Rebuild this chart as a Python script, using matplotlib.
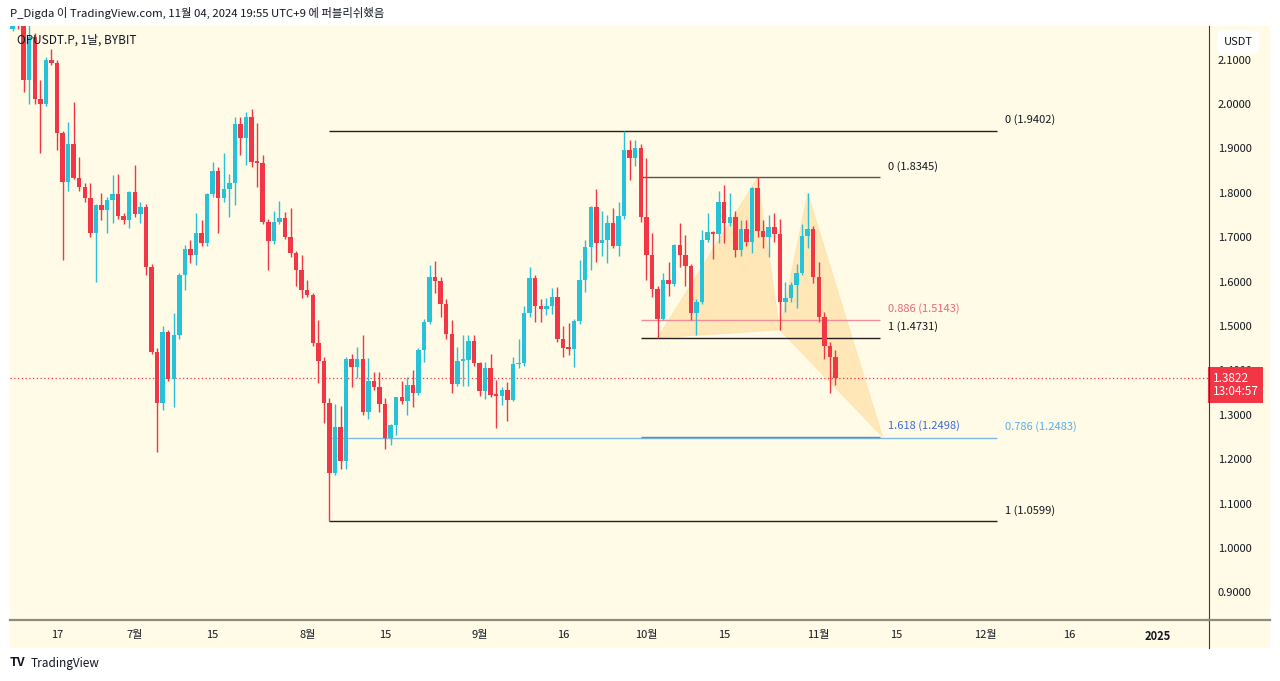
import matplotlib
matplotlib.use("Agg")
import matplotlib.pyplot as plt
import matplotlib.dates as mdates
import matplotlib.transforms as mtransforms
from matplotlib.patches import Rectangle, Polygon
from matplotlib.lines import Line2D
import pandas as pd

plt.rcParams['font.family'] = ['Noto Sans CJK KR', 'DejaVu Sans']

# daily candles OPUSDT.P, from 2024-06-09
start = "2024-06-09"
opens = [2.170, 2.250, 2.210, 2.054, 2.150, 2.011, 2.001, 2.100, 2.093, 1.934,
         1.825, 1.909, 1.834, 1.812, 1.788, 1.710, 1.772, 1.761, 1.784, 1.797,
         1.748, 1.739, 1.801, 1.752, 1.769, 1.634, 1.442, 1.327, 1.486, 1.380,
         1.480, 1.615, 1.673, 1.659, 1.710, 1.688, 1.797, 1.848, 1.788, 1.808,
         1.823, 1.955, 1.924, 1.971, 1.870, 1.868, 1.734, 1.691, 1.734, 1.743,
         1.700, 1.665, 1.626, 1.580, 1.570, 1.461, 1.422, 1.327, 1.168, 1.273,
         1.197, 1.425, 1.407, 1.425, 1.307, 1.377, 1.363, 1.324, 1.247, 1.277,
         1.339, 1.331, 1.367, 1.350, 1.447, 1.510, 1.611, 1.602, 1.550, 1.482,
         1.369, 1.422, 1.423, 1.467, 1.416, 1.354, 1.405, 1.345, 1.343, 1.356,
         1.333, 1.414, 1.416, 1.529, 1.607, 1.544, 1.538, 1.545, 1.566, 1.470,
         1.450, 1.449, 1.511, 1.604, 1.679, 1.767, 1.686, 1.694, 1.733, 1.680,
         1.748, 1.896, 1.878, 1.900, 1.746, 1.660, 1.583, 1.516, 1.604, 1.594,
         1.682, 1.660, 1.635, 1.530, 1.553, 1.694, 1.712, 1.708, 1.780, 1.731,
         1.746, 1.671, 1.718, 1.690, 1.810, 1.715, 1.700, 1.722, 1.707, 1.555,
         1.564, 1.592, 1.619, 1.703, 1.718, 1.610, 1.520, 1.455, 1.430]
highs = [2.300, 2.280, 2.230, 2.180, 2.160, 2.054, 2.105, 2.125, 2.100, 1.940,
         1.959, 2.004, 1.881, 1.822, 1.821, 1.775, 1.799, 1.790, 1.840, 1.842,
         1.755, 1.805, 1.863, 1.780, 1.775, 1.640, 1.450, 1.499, 1.490, 1.530,
         1.620, 1.682, 1.694, 1.754, 1.739, 1.800, 1.870, 1.859, 1.889, 1.842,
         1.971, 1.971, 1.983, 1.988, 1.958, 1.885, 1.740, 1.758, 1.782, 1.756,
         1.766, 1.670, 1.660, 1.604, 1.575, 1.514, 1.430, 1.337, 1.324, 1.320,
         1.430, 1.438, 1.453, 1.480, 1.427, 1.397, 1.397, 1.337, 1.280, 1.340,
         1.375, 1.386, 1.402, 1.450, 1.515, 1.637, 1.647, 1.610, 1.560, 1.513,
         1.453, 1.480, 1.480, 1.480, 1.420, 1.420, 1.438, 1.378, 1.363, 1.373,
         1.431, 1.470, 1.544, 1.634, 1.615, 1.560, 1.562, 1.585, 1.587, 1.500,
         1.506, 1.515, 1.649, 1.694, 1.770, 1.808, 1.760, 1.750, 1.765, 1.780,
         1.9402, 1.920, 1.920, 1.910, 1.878, 1.709, 1.590, 1.619, 1.645, 1.685,
         1.731, 1.705, 1.640, 1.560, 1.716, 1.754, 1.715, 1.803, 1.818, 1.799,
         1.758, 1.739, 1.739, 1.814, 1.8345, 1.739, 1.750, 1.754, 1.740, 1.598,
         1.600, 1.640, 1.730, 1.800, 1.725, 1.645, 1.532, 1.465, 1.446]
lows = [2.165, 2.170, 2.028, 2.001, 2.001, 1.890, 1.995, 2.088, 1.896, 1.649,
        1.805, 1.830, 1.805, 1.780, 1.701, 1.600, 1.739, 1.709, 1.731, 1.740,
        1.730, 1.720, 1.745, 1.731, 1.615, 1.438, 1.217, 1.311, 1.375, 1.317,
        1.470, 1.581, 1.641, 1.637, 1.680, 1.680, 1.790, 1.709, 1.780, 1.745,
        1.772, 1.885, 1.863, 1.859, 1.814, 1.730, 1.626, 1.685, 1.730, 1.695,
        1.656, 1.589, 1.562, 1.565, 1.455, 1.371, 1.281, 1.0599, 1.164, 1.179,
        1.177, 1.362, 1.382, 1.300, 1.290, 1.355, 1.307, 1.222, 1.232, 1.254,
        1.325, 1.300, 1.318, 1.345, 1.420, 1.505, 1.575, 1.521, 1.470, 1.348,
        1.365, 1.365, 1.365, 1.410, 1.342, 1.335, 1.341, 1.270, 1.322, 1.287,
        1.330, 1.405, 1.410, 1.520, 1.510, 1.510, 1.525, 1.528, 1.465, 1.430,
        1.435, 1.407, 1.505, 1.577, 1.626, 1.645, 1.657, 1.641, 1.675, 1.658,
        1.740, 1.829, 1.860, 1.735, 1.604, 1.566, 1.4731, 1.513, 1.568, 1.590,
        1.634, 1.589, 1.514, 1.480, 1.550, 1.690, 1.652, 1.686, 1.686, 1.725,
        1.656, 1.658, 1.680, 1.664, 1.700, 1.675, 1.656, 1.690, 1.491, 1.532,
        1.555, 1.540, 1.615, 1.675, 1.596, 1.510, 1.425, 1.348, 1.367]
closes = [2.250, 2.210, 2.054, 2.150, 2.011, 2.001, 2.100, 2.093, 1.934, 1.825,
          1.909, 1.834, 1.812, 1.788, 1.710, 1.772, 1.761, 1.784, 1.797, 1.748,
          1.739, 1.801, 1.752, 1.769, 1.634, 1.442, 1.327, 1.486, 1.380, 1.480,
          1.615, 1.673, 1.659, 1.710, 1.688, 1.797, 1.848, 1.788, 1.808, 1.823,
          1.955, 1.924, 1.971, 1.870, 1.868, 1.734, 1.691, 1.734, 1.743, 1.700,
          1.665, 1.626, 1.580, 1.570, 1.461, 1.422, 1.327, 1.168, 1.273, 1.197,
          1.425, 1.407, 1.425, 1.307, 1.377, 1.363, 1.324, 1.247, 1.277, 1.339,
          1.331, 1.367, 1.350, 1.447, 1.510, 1.611, 1.602, 1.550, 1.482, 1.369,
          1.422, 1.423, 1.467, 1.416, 1.354, 1.405, 1.345, 1.343, 1.356, 1.333,
          1.414, 1.416, 1.529, 1.607, 1.544, 1.538, 1.545, 1.566, 1.470, 1.450,
          1.449, 1.511, 1.604, 1.679, 1.767, 1.686, 1.694, 1.733, 1.680, 1.748,
          1.896, 1.878, 1.900, 1.746, 1.660, 1.583, 1.516, 1.604, 1.594, 1.682,
          1.660, 1.635, 1.530, 1.553, 1.694, 1.712, 1.708, 1.780, 1.731, 1.746,
          1.671, 1.718, 1.690, 1.810, 1.715, 1.700, 1.722, 1.707, 1.555, 1.564,
          1.592, 1.619, 1.703, 1.718, 1.610, 1.520, 1.455, 1.430, 1.3822]

last_price = 1.3822
countdown = "13:04:57"

# fib retracement on the big swing (Aug 5 low -> Sep 27 high)
big_fib_start, big_fib_end = "2024-08-05", "2024-12-03"
big_fib_levels = [("0", 1.9402, "#131722", "#222222"),
                  ("0.786", 1.2483, "#5aaee6", "#7dbbe8"),
                  ("1", 1.0599, "#131722", "#222222")]
# fib on XA of the pattern
small_fib_start, small_fib_end = "2024-09-30", "2024-11-12"
small_fib_levels = [("0", 1.8345, "#131722", "#555555"),
                    ("0.886", 1.5143, "#e8697a", "#f08d98"),
                    ("1", 1.4731, "#131722", "#222222"),
                    ("1.618", 1.2498, "#3d6bd4", "#4f8fdc")]

# harmonic pattern points X, A, B, C, D
pattern_dates = ["2024-10-03 00:00", "2024-10-21 00:00", "2024-10-25 00:00",
                 "2024-10-30 00:00", "2024-11-12 12:00"]
pattern_prices = [1.4731, 1.8345, 1.491, 1.800, 1.2498]

tick_dates = ["2024-06-17", "2024-07-01", "2024-07-15", "2024-08-01", "2024-08-15",
              "2024-09-01", "2024-09-16", "2024-10-01", "2024-10-15", "2024-11-01",
              "2024-11-15", "2024-12-01", "2024-12-16", "2025-01-01"]
tick_labels = ["17", "7월", "15", "8월", "15", "9월", "16", "10월", "15", "11월",
               "15", "12월", "16", "2025"]
price_ticks = [0.9, 1.0, 1.1, 1.2, 1.3, 1.4, 1.5, 1.6, 1.7, 1.8, 1.9, 2.0, 2.1]

UP = "#26c2d8"
DOWN = "#f23645"
BG = "#fffbe6"
TXT = "#131722"

W, H = 1280, 681
fig = plt.figure(figsize=(W / 100, H / 100), dpi=100, facecolor="white")

# cream chart background incl. price and time scales
fig.patches.append(Rectangle((10 / W, 1 - 648 / H), 1260 / W, 622 / H,
                             transform=fig.transFigure, facecolor=BG,
                             edgecolor="none", zorder=-5))

ax = fig.add_axes([10 / W, 1 - 620 / H, 1198 / W, 594 / H])
ax.set_facecolor("none")

x = mdates.date2num(pd.date_range(start, periods=len(opens), freq="D"))
colors = [UP if c >= o else DOWN for o, c in zip(opens, closes)]
bottoms = [min(o, c) for o, c in zip(opens, closes)]
heights = [max(abs(c - o), 0.003) for o, c in zip(opens, closes)]
ax.vlines(x, lows, highs, colors=colors, linewidth=1.0, zorder=3)
ax.bar(x, heights, bottom=bottoms, width=0.8, color=colors, linewidth=0, zorder=4)

# harmonic pattern triangles
pdx = mdates.date2num(pd.to_datetime(pattern_dates))
tri1 = list(zip(pdx[0:3], pattern_prices[0:3]))
tri2 = list(zip(pdx[2:5], pattern_prices[2:5]))
for tri in (tri1, tri2):
    ax.add_patch(Polygon(tri, closed=True, facecolor="#ff9800", alpha=0.2,
                         edgecolor="#ffb74d", linewidth=0.6, zorder=1))

# fib lines and labels
def draw_fib(d0, d1, levels):
    x0, x1 = mdates.date2num(pd.to_datetime([d0, d1]))
    for name, val, tcol, lcol in levels:
        ax.hlines(val, x0, x1, color=lcol, linewidth=1.0, zorder=2)
        ax.annotate(f"{name} ({val:.4f})", (x1, val), xytext=(6, 8),
                    textcoords="offset points", ha="left", va="center",
                    fontsize=8, color=tcol, zorder=5)

draw_fib(big_fib_start, big_fib_end, big_fib_levels)
draw_fib(small_fib_start, small_fib_end, small_fib_levels)

# last price dotted line
ax.axhline(last_price, color=DOWN, linestyle=(0, (1, 2)), linewidth=0.9, zorder=2)

x_left = mdates.date2num(pd.Timestamp("2024-06-01")) + 7.55
ax.set_xlim(x_left, x_left + 215.45)
ax.set_ylim(0.8378, 2.1757)

ax.set_xticks(mdates.date2num(pd.to_datetime(tick_dates)))
ax.set_xticklabels(tick_labels)
for lab in ax.get_xticklabels():
    if lab.get_text() == "2025":
        lab.set_fontweight("bold")
ax.set_yticks(price_ticks)
ax.set_yticklabels([f"{p:.4f}" for p in price_ticks])
ax.yaxis.tick_right()
ax.tick_params(axis="both", length=0, labelsize=8, colors=TXT)
ax.tick_params(axis="x", pad=7)
ax.tick_params(axis="y", pad=7)
for lab in ax.get_yticklabels():
    lab.set_horizontalalignment("left")

for s in ("top", "left"):
    ax.spines[s].set_visible(False)
ax.spines["right"].set_visible(False)
ax.spines["bottom"].set_color("#8c8c86")
ax.spines["bottom"].set_linewidth(1.6)

# scale separators
fig.add_artist(Line2D([1208.5 / W, 1208.5 / W], [1 - 648 / H, 1 - 26 / H],
                      color="#3a3a3a", linewidth=0.8, transform=fig.transFigure))
fig.add_artist(Line2D([1208 / W, 1270 / W], [1 - 620 / H, 1 - 620 / H],
                      color="#8c8c86", linewidth=1.6, transform=fig.transFigure))

# last price label on the scale
trans = mtransforms.blended_transform_factory(ax.transAxes, ax.transData)
ax.annotate(f"{last_price:.4f}\n{countdown}", (1.0, last_price), xycoords=trans,
            xytext=(3.5, -5), textcoords="offset points", ha="left", va="center",
            fontsize=8.5, color="white", linespacing=1.05, zorder=6,
            annotation_clip=False,
            bbox=dict(boxstyle="square,pad=0.4", facecolor=DOWN, edgecolor="none"))

# texts
fig.text(10 / W, 1 - 13 / H,
         "P_Digda 이 TradingView.com, 11월 04, 2024 19:55 UTC+9 에 퍼블리쉬했음",
         fontsize=8.2, color=TXT, va="center", ha="left")
ax.text(7 / 1198, 1 - 14 / 594, "OPUSDT.P, 1날, BYBIT", transform=ax.transAxes,
        fontsize=8.5, color=TXT, va="center", ha="left", zorder=6)
fig.text(1238 / W, 1 - 42 / H, "USDT", fontsize=8, color=TXT, ha="center", va="center",
         bbox=dict(boxstyle="round,pad=0.6", facecolor="white", edgecolor="none"))
fig.text(10 / W, 1 - 663 / H, "TV", fontsize=9, fontweight="bold", color=TXT,
         ha="left", va="center")
fig.text(31 / W, 1 - 663 / H, "TradingView", fontsize=8.5, color=TXT,
         ha="left", va="center")

fig.savefig("out.png", dpi=100, facecolor="white")
